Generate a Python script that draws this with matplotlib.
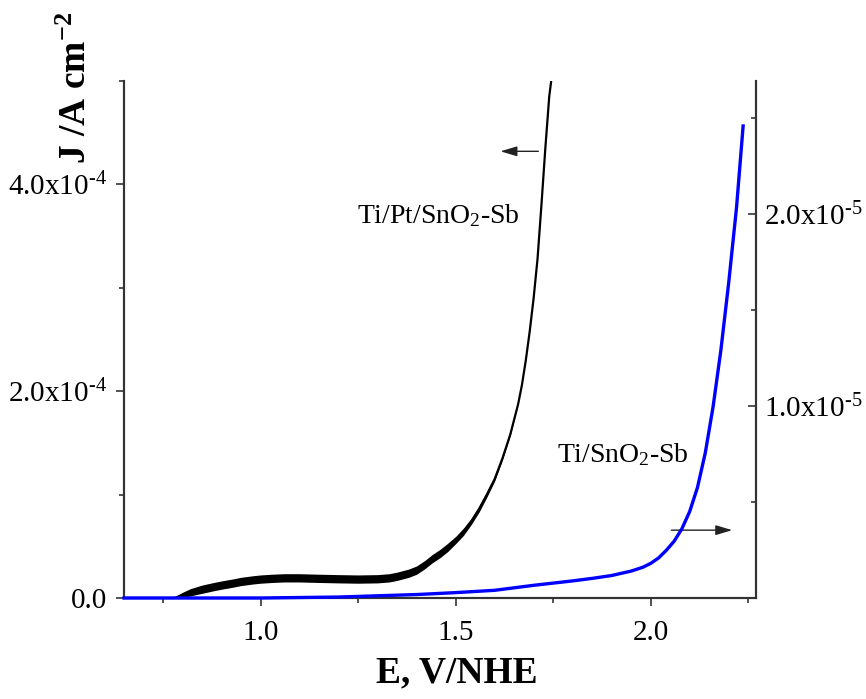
import matplotlib
matplotlib.use("Agg")
import matplotlib.pyplot as plt
import numpy as np
from matplotlib.ticker import FixedLocator, FixedFormatter

plt.rcParams["font.family"] = "Liberation Serif"
plt.rcParams["mathtext.fontset"] = "custom"
plt.rcParams["mathtext.rm"] = "Liberation Serif"
plt.rcParams["mathtext.it"] = "Liberation Serif:italic"
plt.rcParams["mathtext.bf"] = "Liberation Serif:bold"

# Ti/Pt/SnO2-Sb polarization curve (left axis, x1e-4 A cm^-2)
E_pt = [0.78, 0.80, 0.82, 0.85, 0.88, 0.90, 0.93, 0.95, 0.98, 1.00, 1.03, 1.06,
        1.10, 1.15, 1.20, 1.25, 1.30, 1.33, 1.35, 1.38, 1.40, 1.42, 1.44, 1.46,
        1.48, 1.50, 1.52, 1.54, 1.56, 1.58, 1.60, 1.62, 1.64, 1.66, 1.67, 1.68,
        1.69, 1.70, 1.71, 1.72, 1.73, 1.74, 1.745]
J_pt = [0.0, 0.03, 0.055, 0.085, 0.11, 0.125, 0.145, 0.16, 0.175, 0.183, 0.19, 0.195,
        0.195, 0.19, 0.186, 0.183, 0.186, 0.195, 0.21, 0.24, 0.27, 0.32, 0.38, 0.43,
        0.49, 0.56, 0.64, 0.74, 0.86, 1.00, 1.15, 1.35, 1.58, 1.87, 2.06, 2.30,
        2.58, 2.90, 3.28, 3.80, 4.35, 4.85, 5.0]
# spread of the noisy trace around the mean (x1e-4)
noise_pt = [0.01, 0.025, 0.035, 0.04, 0.04, 0.04, 0.04, 0.04, 0.04, 0.04, 0.04, 0.04,
            0.04, 0.04, 0.04, 0.04, 0.04, 0.04, 0.04, 0.04, 0.04, 0.04, 0.04, 0.04,
            0.04, 0.035, 0.035, 0.03, 0.03, 0.025, 0.02, 0.015, 0.01, 0.0, 0.0, 0.0,
            0.0, 0.0, 0.0, 0.0, 0.0, 0.0, 0.0]

# Ti/SnO2-Sb polarization curve (right axis, x1e-5 A cm^-2)
E_sb = [0.65, 1.00, 1.20, 1.40, 1.50, 1.60, 1.70, 1.80, 1.85, 1.90, 1.95, 1.98,
        2.00, 2.02, 2.04, 2.06, 2.08, 2.10, 2.12, 2.14, 2.16, 2.18, 2.20, 2.22,
        2.237]
J_sb = [0.0, 0.0, 0.005, 0.018, 0.028, 0.040, 0.066, 0.089, 0.102, 0.117, 0.140, 0.160,
        0.180, 0.208, 0.248, 0.295, 0.360, 0.450, 0.575, 0.755, 0.995, 1.29, 1.64, 2.03,
        2.456]

x_ticks = [1.0, 1.5, 2.0]
x_ticklabels = ["1.0", "1.5", "2.0"]
y_left_ticks = [0.0, 2e-4, 4e-4]
y_left_ticklabels = ["0.0", r"2.0x10$^{\text{-4}}$", r"4.0x10$^{\text{-4}}$"]
y_right_ticks = [1e-5, 2e-5]
y_right_ticklabels = [r"1.0x10$^{\text{-5}}$", r"2.0x10$^{\text{-5}}$"]

E_pt = np.array(E_pt)
J_pt = np.array(J_pt) * 1e-4
noise_pt = np.array(noise_pt) * 1e-4
E_sb = np.array(E_sb)
J_sb = np.array(J_sb) * 1e-5

fig = plt.figure(figsize=(8.66, 6.99), dpi=100)
ax1 = fig.add_axes([124 / 866, 101 / 699, 632 / 866, 517 / 699])
ax2 = ax1.twinx()

spine_color = "#333333"

# plotting
ax1.fill_between(E_pt, J_pt - noise_pt, J_pt + noise_pt, color="black", lw=0)
ax1.plot(E_pt, J_pt, color="black", linewidth=1.6)
ax2.plot(E_sb, J_sb, color="#0000FF", linewidth=2.4, clip_on=False, zorder=5)

# formating
ax1.set_xlim(0.65, 2.27)
ax1.set_ylim(0, 5e-4)
ax2.set_ylim(0, 2.69e-5)

ax1.xaxis.set_major_locator(FixedLocator(x_ticks))
ax1.xaxis.set_major_formatter(FixedFormatter(x_ticklabels))
ax1.xaxis.set_minor_locator(FixedLocator([0.75, 1.25, 1.75, 2.25]))
ax1.yaxis.set_major_locator(FixedLocator(y_left_ticks))
ax1.yaxis.set_major_formatter(FixedFormatter(y_left_ticklabels))
ax1.yaxis.set_minor_locator(FixedLocator([1e-4, 3e-4, 5e-4]))
ax2.yaxis.set_major_locator(FixedLocator(y_right_ticks))
ax2.yaxis.set_major_formatter(FixedFormatter(y_right_ticklabels))
ax2.yaxis.set_minor_locator(FixedLocator([0.5e-5, 1.5e-5, 2.5e-5]))

for ax in (ax1, ax2):
    ax.spines["top"].set_visible(False)
    for s in ax.spines.values():
        s.set_color(spine_color)
        s.set_linewidth(1.5)

ax1.tick_params(axis="both", which="major", direction="out", length=6, width=1.2,
                color=spine_color, labelsize=21, pad=6)
ax1.tick_params(axis="both", which="minor", direction="out", length=3.5, width=1.2,
                color=spine_color)
ax1.tick_params(axis="x", which="major", pad=10)
ax2.tick_params(axis="y", which="major", direction="in", length=6, width=1.2,
                color=spine_color, labelsize=21, pad=6)
ax2.tick_params(axis="y", which="minor", direction="in", length=3.5, width=1.2,
                color=spine_color)

fig.text(457 / 866, 1 - 673 / 699, "E, V/NHE", fontsize=27, fontweight="bold",
         ha="center", va="center")
fig.text(77 / 866, 1 - 88 / 699, r"J /A cm$^{\mathbf{-2}}$", fontsize=27,
         fontweight="bold", rotation=90, ha="center", va="center")

ax1.text(1.246, 3.63e-4, "Ti/Pt/SnO$_2$-Sb", fontsize=20, ha="left", va="baseline")
ax1.text(1.761, 1.318e-4, "Ti/SnO$_2$-Sb", fontsize=20, ha="left", va="baseline")

arrow = dict(arrowstyle="-|>,head_length=0.5,head_width=0.15", color="#222222",
             lw=1.0, mutation_scale=20, shrinkA=0, shrinkB=0)
ax1.annotate("", xy=(1.615, 4.32e-4), xytext=(1.712, 4.32e-4), arrowprops=arrow)
ax2.annotate("", xy=(2.209, 0.353e-5), xytext=(2.053, 0.353e-5), arrowprops=arrow)

plt.savefig("out.png", dpi=100)
